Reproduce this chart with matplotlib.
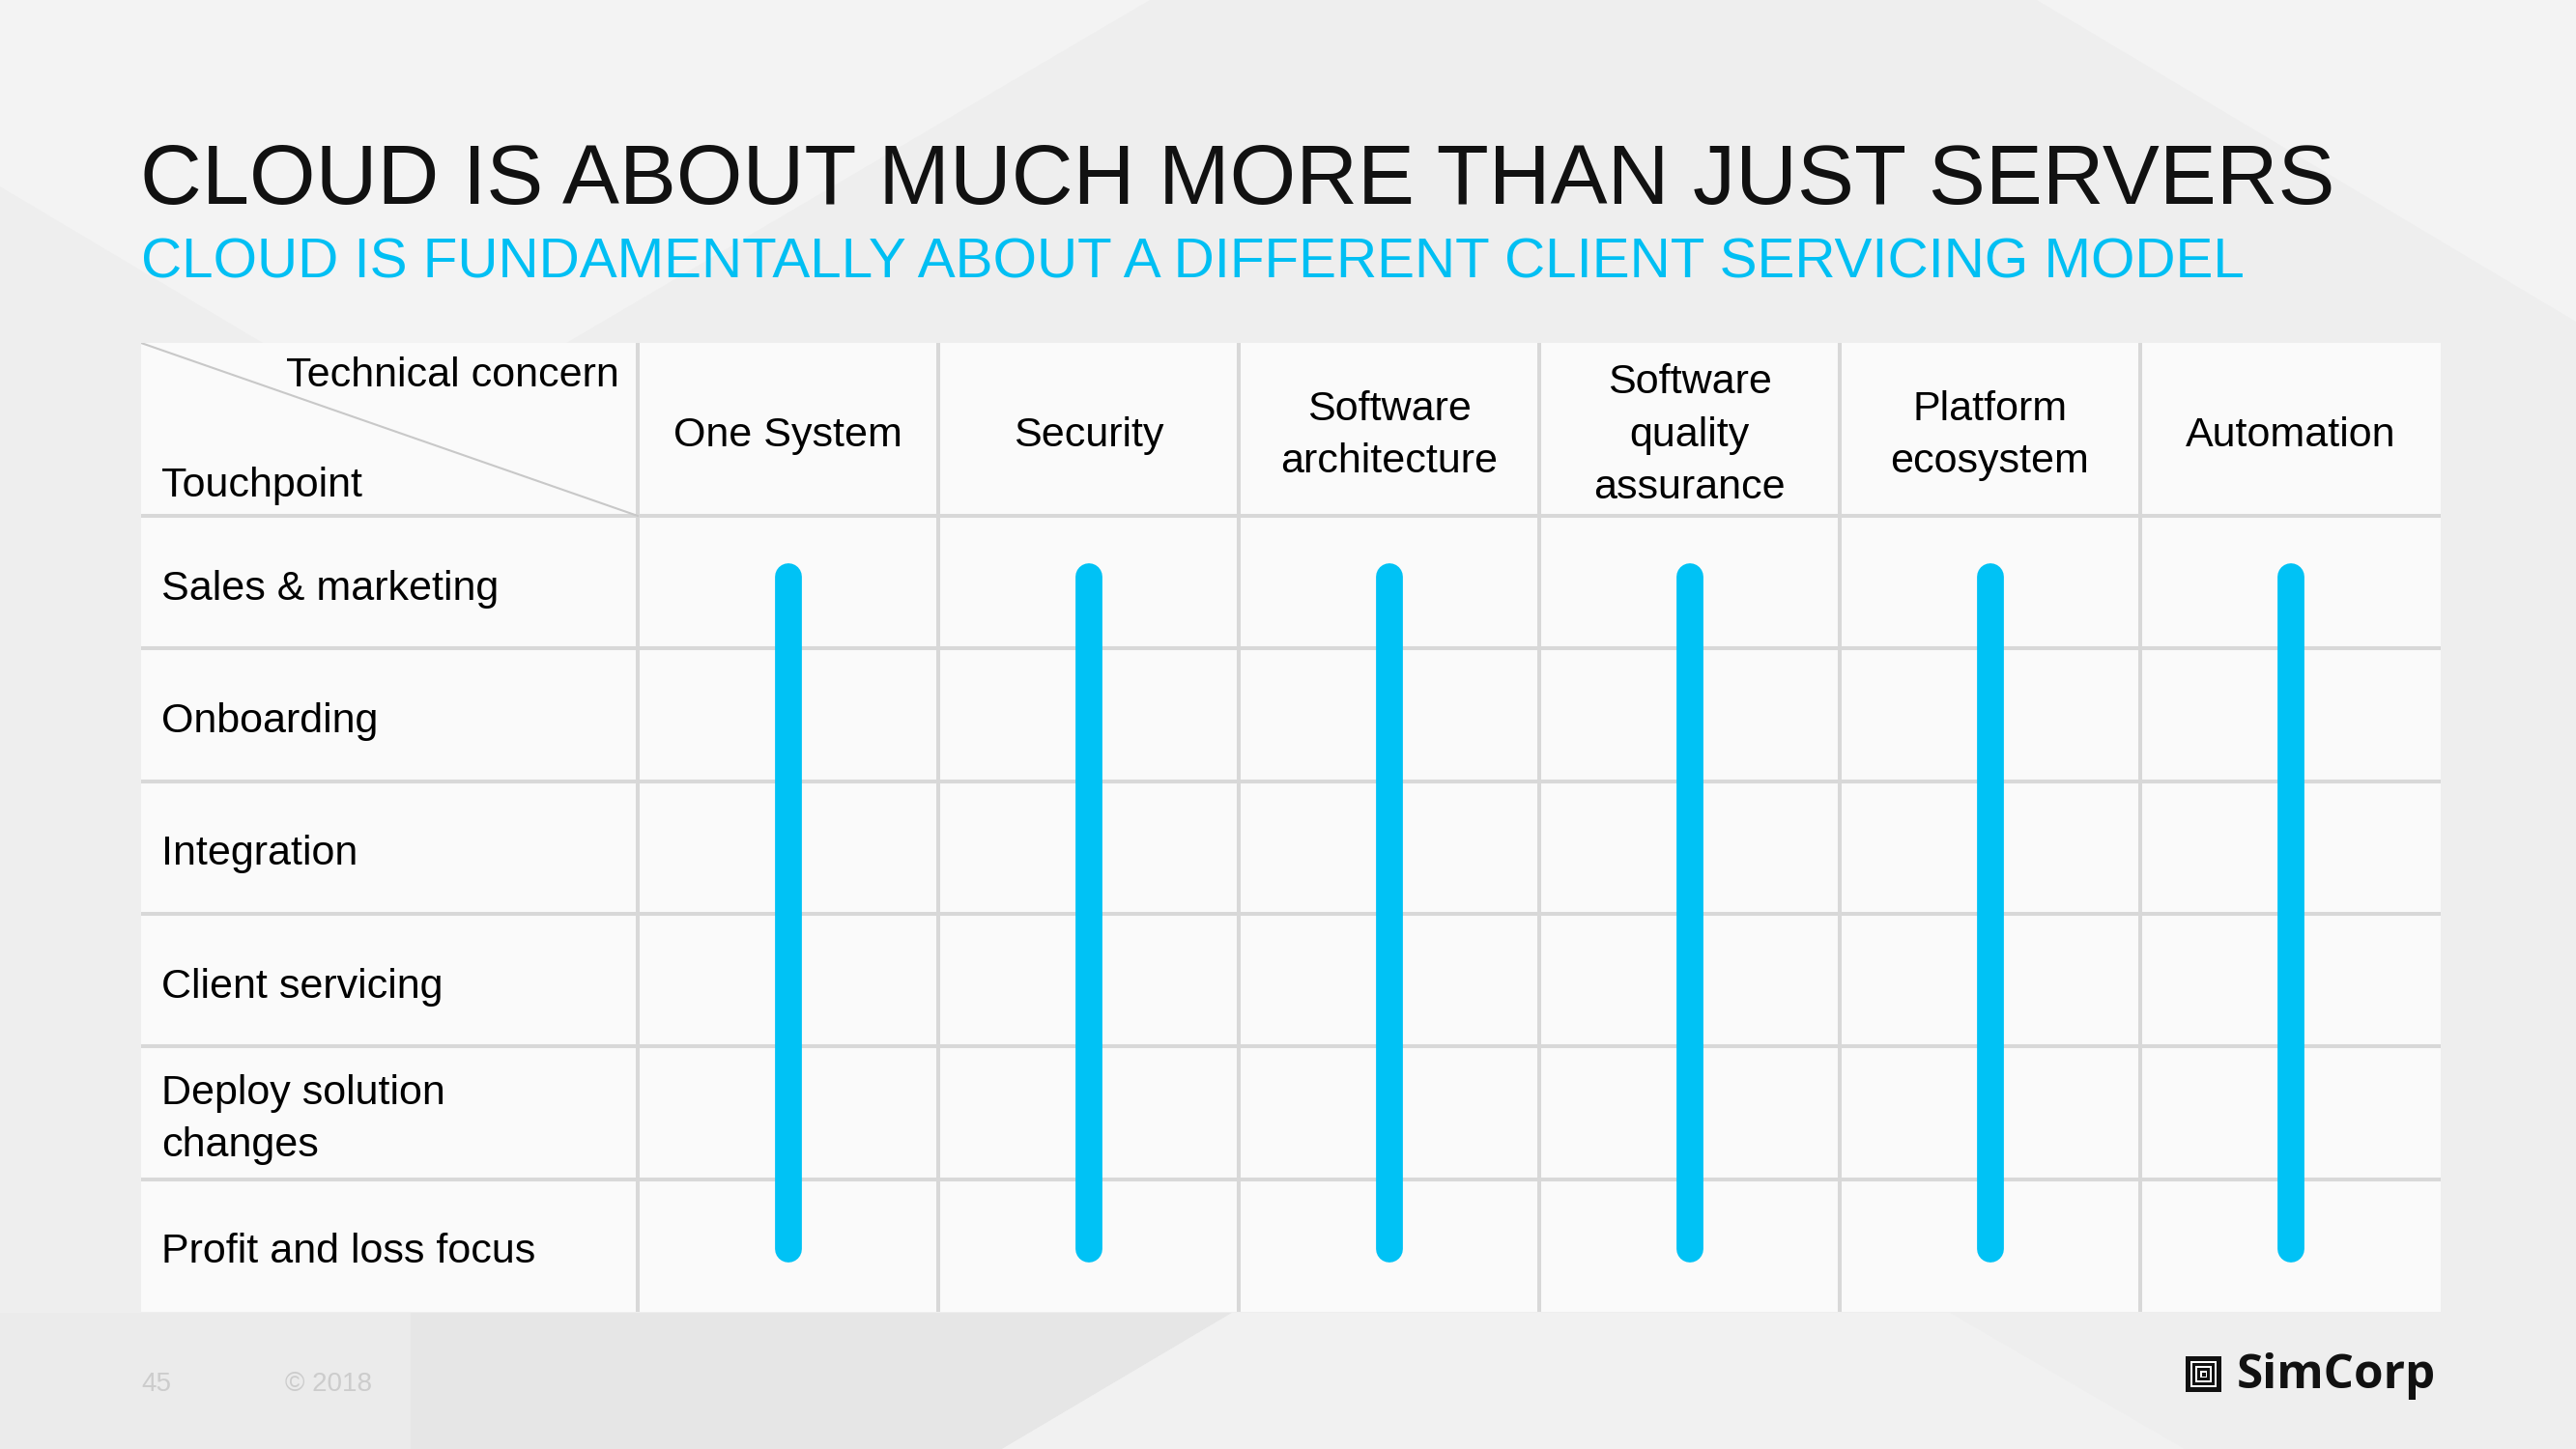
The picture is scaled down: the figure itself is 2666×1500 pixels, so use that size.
import matplotlib
matplotlib.use("Agg")
import matplotlib.pyplot as plt
from matplotlib.patches import Polygon, Rectangle

plt.rcParams['font.family'] = ['Liberation Sans', 'DejaVu Sans']

# data
title = "CLOUD IS ABOUT MUCH MORE THAN JUST SERVERS"
subtitle = "CLOUD IS FUNDAMENTALLY ABOUT A DIFFERENT CLIENT SERVICING MODEL"
concerns = ['One System', 'Security', 'Software\narchitecture',
            'Software\nquality\nassurance', 'Platform\necosystem', 'Automation']
touchpoints = ['Sales & marketing', 'Onboarding', 'Integration', 'Client servicing',
               'Deploy solution\nchanges', 'Profit and loss focus']
# first and last touchpoint covered by each technical concern
span_start = [0, 0, 0, 0, 0, 0]
span_end = [5, 5, 5, 5, 5, 5]

BLUE = '#00c2f5'
GRID = '#d8d8d8'
W, H = 2666, 1500

fig = plt.figure(figsize=(W / 100, H / 100), dpi=100)

# background (pixel coordinates, y down)
bg = fig.add_axes([0, 0, 1, 1])
bg.set_xlim(0, W)
bg.set_ylim(H, 0)
bg.axis('off')
bg.add_patch(Rectangle((0, 0), W, H, color='#eeeeee', zorder=0))
shapes = [
    ([(0, 0), (1190, 0), (428, 448), (0, 193)], '#f3f3f3'),
    ([(2108, 0), (W, 0), (W, 333)], '#f3f3f3'),
    ([(0, 1359), (425, 1359), (425, H), (0, H)], '#ebebeb'),
    ([(425, 1359), (1275, 1359), (1037, H), (425, H)], '#e6e6e6'),
    ([(1275, 1359), (2018, 1359), (2261, H), (1037, H)], '#f1f1f1'),
]
for pts, c in shapes:
    bg.add_patch(Polygon(pts, closed=True, color=c, lw=0, zorder=0))

bg.text(145, 211, title, fontsize=63.6, color='#111111', va='baseline', ha='left')
bg.text(146, 287, subtitle, fontsize=42, color='#00bff3', va='baseline', ha='left')

# footer
bg.text(146, 1440, '45', fontsize=20, color='#cccccc', va='baseline')
bg.text(295, 1440, '© 2018', fontsize=20, color='#cccccc', va='baseline')

# SimCorp logo
x0, y0, s = 2262, 1404, 37
for inset, c in [(0, '#111111'), (5, '#ffffff'), (7, '#111111'), (10, '#ffffff'),
                 (12, '#111111'), (15, '#ffffff'), (16.5, '#111111')]:
    bg.add_patch(Rectangle((x0 + inset, y0 + inset), s - 2 * inset, s - 2 * inset,
                           color=c, lw=0, zorder=2))
bg.text(2315, 1437, 'SimCorp', fontsize=35.5, fontweight='bold', color='#111111',
        va='baseline', ha='left', family=['Open Sans', 'DejaVu Sans'])

# table axes: columns are 1 unit wide, rows 1 unit tall
left, right, top, bottom = 146, 2526, 355, 1358
col_w = (right - 660) / len(concerns)
row_h = (bottom - 534) / len(touchpoints)
lab_w = (660 - left) / col_w
head_h = (534 - top) / row_h

tab = fig.add_axes([left / W, 1 - bottom / H, (right - left) / W, (bottom - top) / H])
tab.set_xlim(-lab_w, len(concerns))
tab.set_ylim(len(touchpoints), -head_h)
tab.axis('off')
tab.patch.set_alpha(0)

tab.add_patch(Rectangle((-lab_w, -head_h), lab_w + len(concerns), head_h + len(touchpoints),
                        color='#fafafa', lw=0, zorder=1))
for j in range(len(concerns)):
    tab.plot([j, j], [-head_h, len(touchpoints)], color=GRID, lw=2.9, zorder=2,
             solid_capstyle='butt')
for i in range(len(touchpoints)):
    tab.plot([-lab_w, len(concerns)], [i, i], color=GRID, lw=2.9, zorder=2,
             solid_capstyle='butt')

# corner cell
tab.plot([-lab_w, 0], [-head_h, 0], color='#c8c8c8', lw=1.5, zorder=3)
tab.text(-0.061, -0.976, 'Technical concern', fontsize=31, ha='right', va='baseline', zorder=4)
tab.text(-1.585, -0.146, 'Touchpoint', fontsize=31, ha='left', va='baseline', zorder=4)

for j, name in enumerate(concerns):
    tab.text(j + 0.5, -head_h / 2 + 0.045, name, fontsize=31, ha='center', va='center',
             linespacing=1.46, zorder=4)
for i, name in enumerate(touchpoints):
    tab.text(-1.585, i + 0.55, name, fontsize=31, ha='left', va='center',
             linespacing=1.46, zorder=4)

# coverage lines
for j in range(len(concerns)):
    tab.plot([j + 0.5, j + 0.5], [span_start[j] + 0.46, span_end[j] + 0.53],
             color=BLUE, lw=20, solid_capstyle='round', zorder=5)

fig.savefig('out.png', dpi=100)
